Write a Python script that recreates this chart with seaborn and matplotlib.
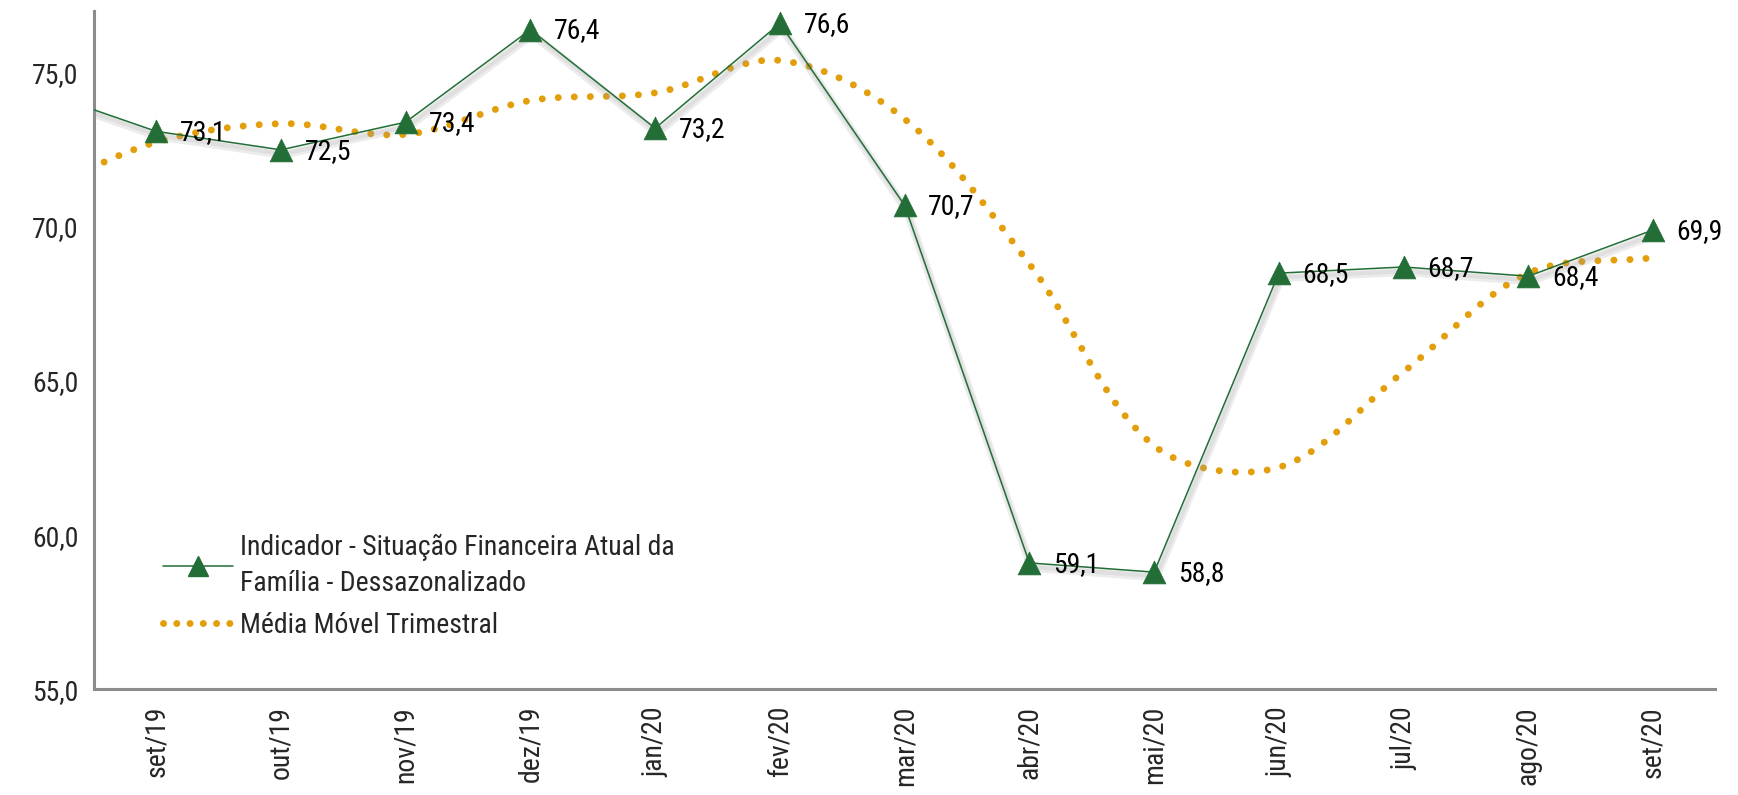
import numpy as np
import pandas as pd
import matplotlib
matplotlib.use("Agg")
import matplotlib.pyplot as plt
import matplotlib.patheffects as pe
from matplotlib.lines import Line2D
from matplotlib import font_manager
import seaborn as sns

# ---------------- data ----------------
months = ["set/19", "out/19", "nov/19", "dez/19", "jan/20", "fev/20", "mar/20",
          "abr/20", "mai/20", "jun/20", "jul/20", "ago/20", "set/20"]
indicador = [73.1, 72.5, 73.4, 76.4, 73.2, 76.6, 70.7, 59.1, 58.8, 68.5, 68.7, 68.4, 69.9]
media_movel = [72.75, 73.35, 73.0, 74.1, 74.35, 75.4, 73.5, 68.8, 62.9, 62.2, 65.3, 68.5, 69.0]
# previous month (ago/19), only visible as the line entering from the left edge
prev_indicador = 74.5
prev_media = 71.0
yticks = [55.0, 60.0, 65.0, 70.0, 75.0]
label_ind = "Indicador - Situação Financeira Atual da\nFamília - Dessazonalizado"
label_mm = "Média Móvel Trimestral"

# ---------------- style ----------------
sns.set_theme(style="white")
avail = {f.name for f in font_manager.fontManager.ttflist}
fams = [f for f in ["Liberation Sans Narrow", "Roboto Condensed", "Lato", "Liberation Sans", "DejaVu Sans"] if f in avail]
plt.rcParams["font.family"] = fams
FS = 20
GREEN = "#236e37"
ORANGE = "#e39e0c"
AXC = "#8c8c8c"

fig = plt.figure(figsize=(17.38, 7.95), dpi=100)
ax = fig.add_axes([0.054, 0.133, 0.933, 0.853])

xs = np.arange(-1, len(months))
ind_all = np.array([prev_indicador] + indicador)
mm_all = np.array([prev_media] + media_movel)

# Excel-like smoothed line: cubic Bezier with control points scaled by screen segment lengths
XPX, YPX = 124.8, 30.8  # approx. pixels per category / per y unit (for segment lengths only)
def smooth(x, y, n=40, t=1/3):
    P = np.column_stack([x, y]).astype(float)
    P = np.vstack([P[0], P, P[-1]])
    S = np.array([XPX, YPX])
    d = np.linalg.norm(np.diff(P * S, axis=0), axis=1)
    ox, oy = [], []
    u = np.linspace(0, 1, n, endpoint=False)[:, None]
    for i in range(1, len(P) - 2):
        p0, p1, p2, p3 = P[i - 1], P[i], P[i + 1], P[i + 2]
        dm, di, dp = d[i - 1], d[i], d[i + 1]
        c1 = p1 + t * (p2 - p0) * di / (dm + di)
        c2 = p2 - t * (p3 - p1) * di / (di + dp)
        b = (1 - u) ** 3 * p1 + 3 * (1 - u) ** 2 * u * c1 + 3 * (1 - u) * u ** 2 * c2 + u ** 3 * p2
        ox.extend(b[:, 0]); oy.extend(b[:, 1])
    ox.append(x[-1]); oy.append(y[-1])
    return np.array(ox), np.array(oy)

sx, sy = smooth(xs.astype(float), mm_all)
df_mm = pd.DataFrame({"x": sx, "y": sy})
sns.lineplot(data=df_mm, x="x", y="y", ax=ax, sort=False, estimator=None,
             color=ORANGE, lw=5.0, dashes=False, zorder=2)
mm_line = ax.lines[-1]
mm_line.set_linestyle((0, (0.01, 2.3)))
mm_line.set_dash_capstyle("round")
mm_line.set_solid_capstyle("round")

df_ind = pd.DataFrame({"x": xs, "y": ind_all})
sns.lineplot(data=df_ind, x="x", y="y", ax=ax, sort=False, estimator=None,
             color=GREEN, lw=1.1, zorder=3)
ind_line = ax.lines[-1]
ind_line.set_path_effects([pe.SimpleLineShadow(offset=(1.5, -3.5), shadow_color="#9a9a9a", alpha=0.18, linewidth=6),
                           pe.SimpleLineShadow(offset=(1.5, -3.0), shadow_color="#9a9a9a", alpha=0.15, linewidth=3),
                           pe.Normal()])
sns.scatterplot(x=xs[1:], y=indicador, ax=ax, marker="^", s=270, color=GREEN,
                edgecolor=GREEN, linewidth=0.5, zorder=4)

for i, v in enumerate(indicador):
    ax.annotate(f"{v:.1f}".replace(".", ","), (i, v), xytext=(17, -1), textcoords="offset points",
                ha="left", va="center", fontsize=FS, color="black", zorder=5)

# axes
ax.set_xlim(-0.5, len(months) - 0.5)
ax.set_ylim(55, 77)
ax.set_yticks(yticks)
ax.set_yticklabels([f"{t:.1f}".replace(".", ",") for t in yticks], fontsize=FS)
ax.set_xticks(range(len(months)))
ax.set_xticklabels(months, rotation=90, fontsize=FS)
ax.set_xticks(np.arange(-0.5, len(months)), minor=True)
ax.tick_params(axis="x", which="major", length=0, pad=12)
ax.tick_params(axis="x", which="minor", length=6, width=2, color=AXC, direction="out")
ax.tick_params(axis="y", length=7, width=2, color=AXC, direction="out", pad=4)
ax.set_xlabel("")
ax.set_ylabel("")
for s in ["top", "right"]:
    ax.spines[s].set_visible(False)
for s in ["left", "bottom"]:
    ax.spines[s].set_color(AXC)
    ax.spines[s].set_linewidth(2.2)
ax.grid(False)

h1 = Line2D([0, 0.5, 1], [0, 0, 0], color=GREEN, lw=1.1, marker="^", markersize=14, markevery=[1],
            markerfacecolor=GREEN, markeredgecolor=GREEN)
h2 = Line2D([], [], color=ORANGE, lw=5.0, linestyle=(0, (0.01, 1.9)), dash_capstyle="round")
leg = ax.legend([h1, h2], [label_ind, label_mm], loc="upper left", bbox_to_anchor=(0.036, 0.245),
                frameon=False, fontsize=FS, handlelength=2.5, handletextpad=0.25,
                labelspacing=0.55, borderaxespad=0)
for txt in leg.get_texts():
    txt.set_linespacing(1.4)

fig.savefig("out.png", dpi=100)
